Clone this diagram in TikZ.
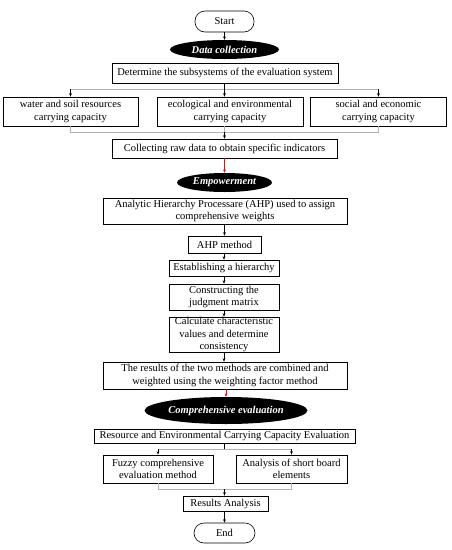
\documentclass[tikz,border=0pt]{standalone}
\usepackage{fontspec}
\setmainfont{Liberation Serif}
\usetikzlibrary{shapes.geometric,arrows.meta}
\begin{document}
\begin{tikzpicture}[x=1pt,y=-1pt,
 every node/.style={font=\fontsize{10.5}{12.3}\selectfont},
 box/.style={draw,line width=0.6pt,inner sep=0pt,align=center},
 term/.style={draw,line width=0.6pt,rounded corners=10pt,inner sep=0pt},
 phase/.style={ellipse,fill=black,text=white,inner sep=0pt,font=\fontsize{10.5}{12.3}\selectfont\bfseries\itshape},
 arr/.style={-{Stealth[length=3.5pt,width=2.8pt]},line width=0.5pt},
 rarr/.style={arr,draw=red},
 plain/.style={line width=0.5pt},
 gline/.style={line width=0.6pt,draw=black!30}]
\useasboundingbox (0,0) rectangle (451,550);
\node[term,minimum width=59pt,minimum height=21pt] (start) at (224.5,21.5) {Start};
\node[phase,minimum width=109pt,minimum height=19pt] (dc) at (224.5,49.5) {Data collection};
\node[box,minimum width=226pt,minimum height=20pt] (det) at (225,73) {Determine the subsystems of the evaluation system};
\node[box,minimum width=135pt,minimum height=29pt] (water) at (70.5,111.5) {water and soil resources\\carrying capacity};
\node[box,minimum width=146pt,minimum height=29pt] (eco) at (230,111.5) {ecological and environmental\\carrying capacity};
\node[box,minimum width=136pt,minimum height=29pt] (soc) at (378.5,111.5) {social and economic\\carrying capacity};
\node[box,minimum width=225pt,minimum height=19pt] (col) at (224.5,148.5) {Collecting raw data to obtain specific indicators};
\node[phase,minimum width=95pt,minimum height=19pt] (emp) at (224.5,182.5) {Empowerment};
\node[box,minimum width=244pt,minimum height=26pt] (ahp0) at (225,211) {Analytic Hierarchy Processare (AHP) used to assign\\comprehensive weights};
\node[box,minimum width=73pt,minimum height=17pt] (ahp) at (224.5,244.5) {AHP method};
\node[box,minimum width=110pt,minimum height=16pt] (est) at (224,268) {Establishing a hierarchy};
\node[box,minimum width=110pt,minimum height=26pt] (con) at (224,297) {Constructing the\\judgment matrix};
\node[box,minimum width=110pt,minimum height=35pt] (cal) at (224,334.5) {Calculate characteristic\\values and determine\\consistency};
\node[box,minimum width=244pt,minimum height=27pt] (res) at (225,375.5) {The results of the two methods are combined and\\weighted using the weighting factor method};
\node[phase,minimum width=162pt,minimum height=27pt] (comp) at (226,410.5) {Comprehensive evaluation};
\node[box,minimum width=261pt,minimum height=14pt] (rec) at (224.5,436) {Resource and Environmental Carrying Capacity Evaluation};
\node[box,minimum width=110pt,minimum height=28pt] (fuzzy) at (158,469) {Fuzzy comprehensive\\evaluation method};
\node[box,minimum width=111pt,minimum height=28pt] (ana) at (291.5,469) {Analysis of short board\\elements};
\node[box,minimum width=85pt,minimum height=15pt] (ra) at (225.5,503.5) {Results Analysis};
\node[term,minimum width=61pt,minimum height=20pt] (stop) at (224.5,533) {End};
% connectors
\draw[arr] (start) -- (dc);
\coordinate (j1) at (224.5,89);
\draw[plain] (det.south -| j1) -- (j1);
\draw[gline] (j1 -| water) -- (j1 -| soc);
\draw[arr] (j1 -| water) -- (water.north);
\draw[arr] (j1) -- (j1 |- eco.north);
\draw[arr] (j1 -| soc) -- (soc.north);
\coordinate (j2) at (224.5,132);
\draw[gline] (water.south) -- (water.south |- j2) -- (soc.south |- j2) -- (soc.south);
\draw[gline] (j2 |- eco.south) -- (j2);
\draw[arr] (j2) -- (col);
\draw[rarr] (col) -- (emp);
\draw[arr] (ahp0.south -| ahp) -- (ahp);
\draw[arr] (ahp.south -| est) -- (est);
\draw[arr] (est) -- (con);
\draw[arr] (con) -- (cal);
\draw[arr] (cal) -- (cal |- res.north);
\draw[rarr] (res.south -| comp) -- (comp);
\coordinate (j3) at (224.5,449);
\draw[plain] (rec.south -| j3) -- (j3);
\draw[gline] (j3 -| fuzzy) -- (j3 -| ana);
\draw[arr] (j3 -| fuzzy) -- (fuzzy);
\draw[arr] (j3 -| ana) -- (ana);
\coordinate (j4) at (224.5,489);
\draw[gline] (fuzzy.south) -- (fuzzy.south |- j4) -- (ana.south |- j4) -- (ana.south);
\draw[arr] (j4) -- (j4 |- ra.north);
\draw[arr] (ra.south -| stop) -- (stop);
\end{tikzpicture}
\end{document}
